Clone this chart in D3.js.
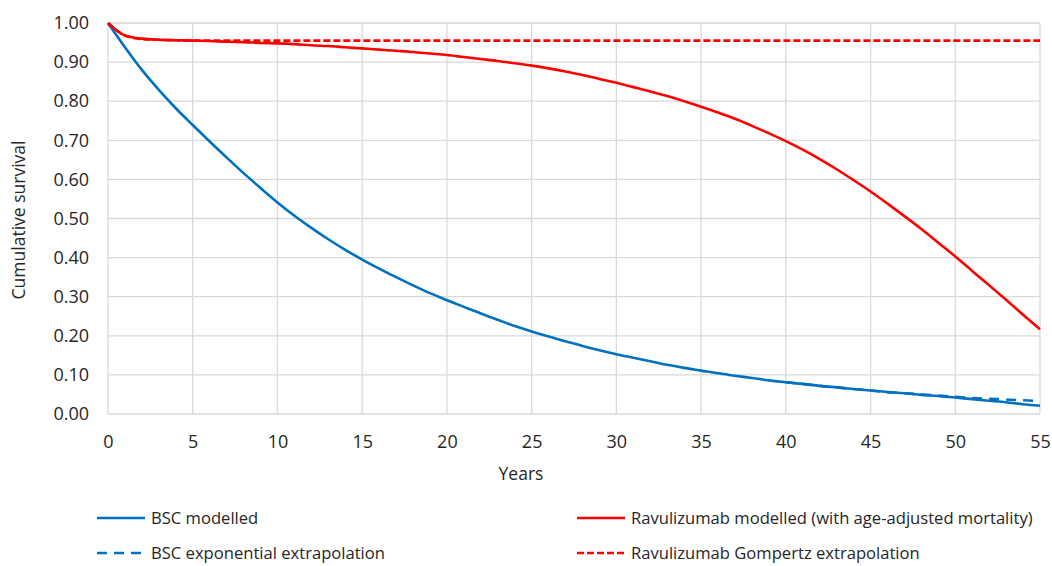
<!DOCTYPE html>
<html>
<head>
<meta charset="utf-8">
<script src="https://cdn.jsdelivr.net/npm/d3@7"></script>
<style>
  body { margin: 0; background: #fff; }
  svg text { font-family: "Open Sans", sans-serif; fill: #262626; }
</style>
</head>
<body>
<script>
// years 0..55
const years = d3.range(0, 56);

const bscModelled = [
  1.000, 0.938, 0.880, 0.829, 0.782, 0.739, 0.697, 0.656, 0.616, 0.578,
  0.541, 0.507, 0.476, 0.447, 0.420, 0.395, 0.372, 0.350, 0.329, 0.309,
  0.291, 0.274, 0.257, 0.241, 0.225, 0.211, 0.198, 0.186, 0.174, 0.163,
  0.153, 0.144, 0.135, 0.126, 0.118, 0.111, 0.104, 0.098, 0.092, 0.086,
  0.081, 0.077, 0.072, 0.068, 0.064, 0.060, 0.056, 0.053, 0.049, 0.046,
  0.042, 0.038, 0.034, 0.030, 0.025, 0.021
];

const ravModelled = [
  1.000, 0.968, 0.960, 0.957, 0.956, 0.955, 0.954, 0.952, 0.951, 0.949,
  0.948, 0.946, 0.943, 0.941, 0.938, 0.935, 0.932, 0.929, 0.926, 0.922,
  0.918, 0.913, 0.908, 0.903, 0.897, 0.891, 0.884, 0.876, 0.867, 0.857,
  0.847, 0.836, 0.825, 0.813, 0.800, 0.786, 0.771, 0.755, 0.737, 0.718,
  0.698, 0.676, 0.652, 0.626, 0.598, 0.569, 0.538, 0.506, 0.473, 0.438,
  0.403, 0.366, 0.329, 0.292, 0.254, 0.217
];

// exponential extrapolation only shown where it departs from the model
const bscExpYears = d3.range(40, 56);
const bscExp = [
  0.081, 0.077, 0.072, 0.068, 0.064, 0.060, 0.056, 0.053, 0.050, 0.047,
  0.044, 0.041, 0.039, 0.037, 0.035, 0.033
];

const ravGompertz = [
  1.000, 0.968, 0.959, 0.957, 0.956, 0.955, 0.955, 0.955, 0.955, 0.955,
  0.955, 0.955, 0.955, 0.955, 0.955, 0.955, 0.955, 0.955, 0.955, 0.955,
  0.955, 0.955, 0.955, 0.955, 0.955, 0.955, 0.955, 0.955, 0.955, 0.955,
  0.955, 0.955, 0.955, 0.955, 0.955, 0.955, 0.955, 0.955, 0.955, 0.955,
  0.955, 0.955, 0.955, 0.955, 0.955, 0.955, 0.955, 0.955, 0.955, 0.955,
  0.955, 0.955, 0.955, 0.955, 0.955, 0.955
];

const xTicks = d3.range(0, 56, 5);
const yTicks = d3.range(0, 11).map(d => d / 10);

const w = 1052, h = 566;
const plotL = 108, plotR = 1040, plotT = 23, plotB = 414;

const svg = d3.select("body").append("svg")
  .attr("width", w).attr("height", h);

const x = d3.scaleLinear().domain([0, 55]).range([plotL, plotR]);
const y = d3.scaleLinear().domain([0, 1]).range([plotB, plotT]);

// gridlines
svg.append("g").selectAll("line").data(yTicks).enter().append("line")
  .attr("x1", plotL).attr("x2", plotR)
  .attr("y1", d => y(d)).attr("y2", d => y(d))
  .attr("stroke", "#d9d9d9").attr("stroke-width", 1.3);
svg.append("g").selectAll("line").data(xTicks).enter().append("line")
  .attr("x1", d => x(d)).attr("x2", d => x(d))
  .attr("y1", plotT).attr("y2", plotB)
  .attr("stroke", "#d9d9d9").attr("stroke-width", 1.3);

// axes (labels only, Excel style)
const yAxis = d3.axisLeft(y).tickValues(yTicks).tickFormat(d3.format(".2f")).tickSize(0).tickPadding(19);
svg.append("g").attr("transform", "translate(" + plotL + ",0)").call(yAxis)
  .call(g => g.select(".domain").remove())
  .selectAll("text").style("font-size", "18px").attr("fill", "#262626");

const xAxis = d3.axisBottom(x).tickValues(xTicks).tickFormat(d3.format("d")).tickSize(0).tickPadding(21);
svg.append("g").attr("transform", "translate(0," + plotB + ")").call(xAxis)
  .call(g => g.select(".domain").remove())
  .selectAll("text").style("font-size", "18px").attr("fill", "#262626");

svg.append("text").attr("x", 521).attr("y", 480).attr("text-anchor", "middle")
  .style("font-size", "17.5px").text("Years");
svg.append("text").attr("transform", "translate(25,220) rotate(-90)")
  .attr("text-anchor", "middle").style("font-size", "17.5px").text("Cumulative survival");

const line = d3.line().curve(d3.curveMonotoneX);

const series = [
  { name: "BSC modelled", xs: years, ys: bscModelled, color: "#0070c0", dash: null, lx: 97, ly: 518 },
  { name: "Ravulizumab modelled (with age-adjusted mortality)", xs: years, ys: ravModelled, color: "#ff0000", dash: null, lx: 577, ly: 518 },
  { name: "BSC exponential extrapolation", xs: bscExpYears, ys: bscExp, color: "#0070c0", dash: "10,7", lx: 97, ly: 553 },
  { name: "Ravulizumab Gompertz extrapolation", xs: years, ys: ravGompertz, color: "#ff0000", dash: "7,3", lx: 577, ly: 553 }
];

series.forEach(s => {
  svg.append("path")
    .attr("d", line(s.xs.map((yr, i) => [x(yr), y(s.ys[i])])))
    .attr("fill", "none")
    .attr("stroke", s.color)
    .attr("stroke-width", 2.6)
    .attr("stroke-dasharray", s.dash);

  svg.append("line")
    .attr("x1", s.lx).attr("x2", s.lx + 48)
    .attr("y1", s.ly).attr("y2", s.ly)
    .attr("stroke", s.color).attr("stroke-width", 2.6)
    .attr("stroke-dasharray", s.dash);
  svg.append("text")
    .attr("x", s.lx + 54).attr("y", s.ly).attr("dy", "0.35em")
    .style("font-size", "16.6px").text(s.name);
});
</script>
</body>
</html>
